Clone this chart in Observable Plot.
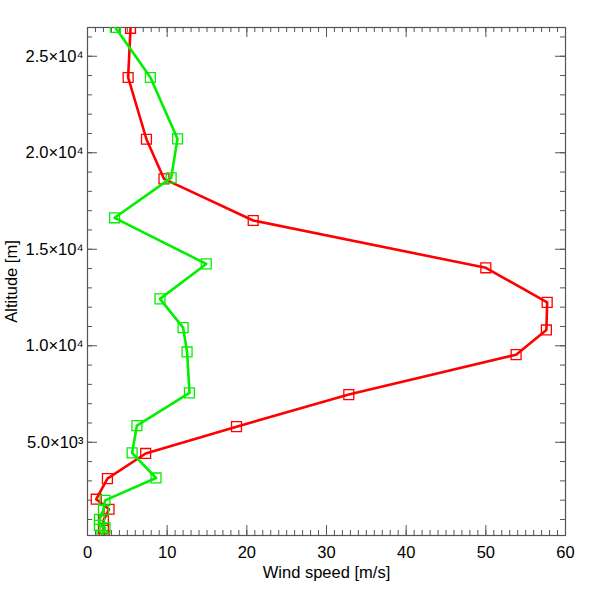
<!DOCTYPE html>
<html>
<head>
<meta charset="utf-8">
<script src="https://cdn.jsdelivr.net/npm/d3@7"></script>
<script src="https://cdn.jsdelivr.net/npm/@observablehq/plot@0.6"></script>
<style>
  html, body { margin: 0; padding: 0; background: #fff; }
  #chart { width: 591px; height: 591px; }
</style>
</head>
<body>
<div id="chart"></div>
<script>
// Red profile
const redSpeed = [5.4, 5.1, 7.4, 9.6, 20.8, 50.0, 57.7, 57.6, 53.8, 32.8, 18.7, 7.3, 2.5, 1.1, 2.7, 2.0, 2.0, 2.1];
const redAlt   = [26450, 23900, 20700, 18650, 16490, 14040, 12250, 10820, 9540, 7470, 5810, 4420, 3120, 2050, 1530, 950, 530, 170];
// Green profile
const greenSpeed = [3.5, 7.9, 11.3, 10.5, 3.4, 14.9, 9.1, 12.0, 12.5, 12.8, 6.2, 5.6, 8.6, 2.2, 2.0, 1.5, 1.5, 2.2, 1.8];
const greenAlt   = [26490, 23900, 20720, 18700, 16630, 14240, 12430, 10940, 9680, 7560, 5860, 4450, 3150, 1990, 1500, 1000, 700, 560, 170];

const xMajor = [0, 10, 20, 30, 40, 50, 60];
const xMinor = d3.range(0, 61, 1);
const yMajor = [5000, 10000, 15000, 20000, 25000];
const yMajorLabels = ["5.0×10³", "1.0×10⁴", "1.5×10⁴", "2.0×10⁴", "2.5×10⁴"];
const yMinor = d3.range(1000, 26001, 1000);

const red = redSpeed.map((s, i) => ({speed: s, alt: redAlt[i]}));
const green = greenSpeed.map((s, i) => ({speed: s, alt: greenAlt[i]}));

const W = 591, H = 591;
const mT = 27, mB = 56, mL = 87, mR = 26;
const plotH = H - mT - mB;
const plotW = W - mL - mR;
const axisColor = "#555";
const yDomain = d3.extent([...redAlt, ...greenAlt]);

const chart = Plot.plot({
  width: W,
  height: H,
  marginTop: mT,
  marginBottom: mB,
  marginLeft: mL,
  marginRight: mR,
  style: {fontFamily: "'Liberation Sans', Arial, sans-serif", fontSize: "16.5px", color: "#000", background: "#fff"},
  x: {domain: [0, 60]},
  y: {domain: yDomain},
  marks: [
    Plot.frame({stroke: axisColor, strokeWidth: 1.2}),
    // minor & major ticks, pointing inward on all sides
    Plot.tickX(xMinor, {x: d => d, stroke: axisColor, insetTop: plotH - 5}),
    Plot.tickX(xMinor, {x: d => d, stroke: axisColor, insetBottom: plotH - 5}),
    Plot.tickX(xMajor, {x: d => d, stroke: axisColor, insetTop: plotH - 10}),
    Plot.tickX(xMajor, {x: d => d, stroke: axisColor, insetBottom: plotH - 10}),
    Plot.tickY(yMinor, {y: d => d, stroke: axisColor, insetRight: plotW - 5}),
    Plot.tickY(yMinor, {y: d => d, stroke: axisColor, insetLeft: plotW - 5}),
    Plot.tickY(yMajor, {y: d => d, stroke: axisColor, insetRight: plotW - 10}),
    Plot.tickY(yMajor, {y: d => d, stroke: axisColor, insetLeft: plotW - 10}),
    Plot.axisX(xMajor, {
      anchor: "bottom", tickSize: 0, tickPadding: 11, fontSize: 16.5,
      label: "Wind speed [m/s]", labelAnchor: "center", labelArrow: "none", labelOffset: 42
    }),
    Plot.axisY(yMajor, {
      anchor: "left", tickSize: 0, tickPadding: 4, fontSize: 16.5,
      tickFormat: (d) => yMajorLabels[yMajor.indexOf(d)],
      label: "Altitude [m]", labelAnchor: "center", labelArrow: "none", labelOffset: 82
    }),
    Plot.line(red, {x: "speed", y: "alt", stroke: "#ff0000", strokeWidth: 2.6, clip: true}),
    Plot.dot(red, {x: "speed", y: "alt", symbol: "square", r: 5.6, stroke: "#ff0000", strokeWidth: 1.3, fill: "none", clip: true}),
    Plot.line(green, {x: "speed", y: "alt", stroke: "#00f000", strokeWidth: 2.6, clip: true}),
    Plot.dot(green, {x: "speed", y: "alt", symbol: "square", r: 5.6, stroke: "#00f000", strokeWidth: 1.3, fill: "none", clip: true})
  ]
});
document.getElementById("chart").appendChild(chart);
</script>
</body>
</html>
